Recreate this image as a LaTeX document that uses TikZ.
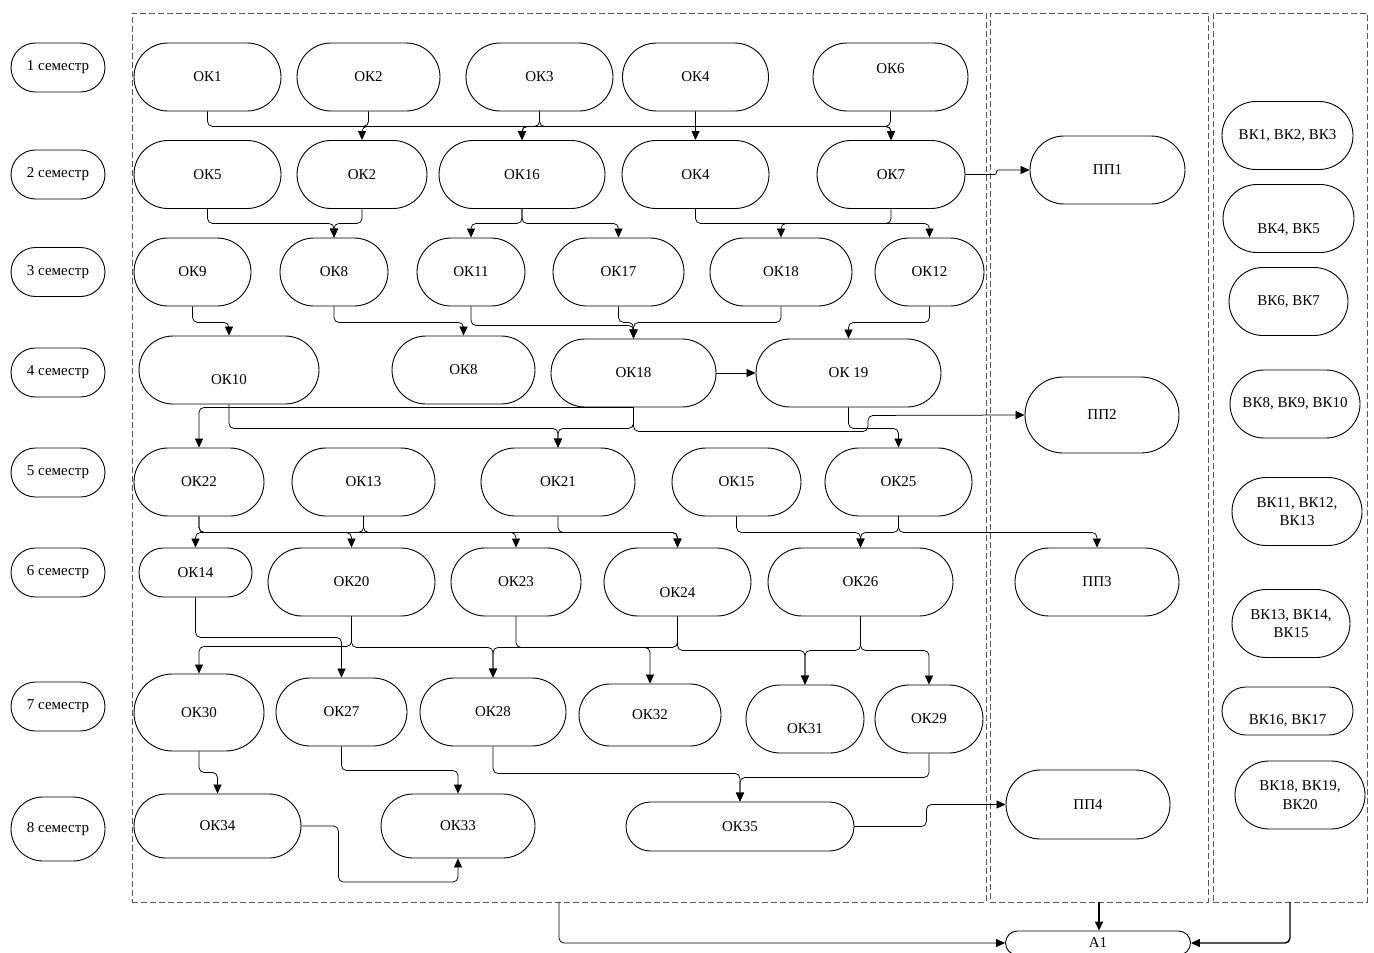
\documentclass[tikz,border=0pt]{standalone}
\usepackage{fontspec}
\setmainfont{Liberation Serif}
\usetikzlibrary{shapes.misc,arrows.meta}

\begin{document}
\begin{tikzpicture}[x=1pt, y=-1pt,
    box/.style={
        rounded rectangle, draw, line width=0.9pt,
        minimum height=68pt, inner sep=2pt,
        align=center, font=\fontsize{15}{18.5}\selectfont
    },
    sem/.style={box, minimum width=98pt, minimum height=49pt},
    area/.style={
        rectangle, draw=black!65, dash pattern=on 6pt off 3pt,
        line width=0.7pt, inner sep=0pt, outer sep=0pt
    },
    arrow/.style={-{Triangle[length=9pt,width=8pt]}, line width=0.75pt, rounded corners=5pt},
    bigarrow/.style={arrow, line width=1.4pt},
    txtdown/.style={text height=#1, text depth=0pt},
    txtup/.style={text height=0pt, text depth=#1}
]
\useasboundingbox (0,0) rectangle (1374,953);

% Areas
\node[area, minimum width=854, minimum height=889] (okarea) at (559,457.5) {};
\node[area, minimum width=218, minimum height=889] (pparea) at (1099,457.5) {};
\node[area, minimum width=154, minimum height=889] (vkarea) at (1290,457.5) {};

% Semesters
\node[sem] (s1) at (58,67.5) {1 семестр};
\node[sem] (s2) at (58,174.5) {2 семестр};
\node[sem] (s3) at (58,272) {3 семестр};
\node[sem] (s4) at (58,372.5) {4 семестр};
\node[sem] (s5) at (58,472.5) {5 семестр};
\node[sem] (s6) at (58,572.5) {6 семестр};
\node[sem] (s7) at (58,706.5) {7 семестр};
\node[sem, minimum height=64] (s8) at (58,829) {8 семестр};

% Semester 1
\node[box, minimum width=151] (ok1) at (207.5,77) {ОК1};
\node[box, minimum width=147] (ok2) at (368.5,77) {ОК2};
\node[box, minimum width=151] (ok3) at (539.5,77) {ОК3};
\node[box, minimum width=150] (ok4) at (695.5,77) {ОК4};
\node[box, minimum width=159, txtup=8pt] (ok6) at (890.5,77) {ОК6};

% Semester 2
\node[box, minimum width=151] (ok5) at (207.5,174.5) {ОК5};
\node[box, minimum width=134] (ok2b) at (362,174.5) {ОК2};
\node[box, minimum width=170] (ok16) at (522,174.5) {ОК16};
\node[box, minimum width=151] (ok4b) at (695.5,174.5) {ОК4};
\node[box, minimum width=152] (ok7) at (891,174.5) {ОК7};
\node[box, minimum width=159] (pp1) at (1107.5,170) {ПП1};

% Semester 3
\node[box, minimum width=121] (ok9) at (192.5,272) {ОК9};
\node[box, minimum width=112] (ok8) at (334,272) {ОК8};
\node[box, minimum width=112] (ok11) at (471,272) {ОК11};
\node[box, minimum width=135] (ok17) at (618.5,272) {ОК17};
\node[box, minimum width=146] (ok18) at (781,272) {ОК18};
\node[box, minimum width=113] (ok12) at (929.5,272) {ОК12};

% Semester 4
\node[box, minimum width=184, txtdown=28pt] (ok10) at (229,370) {ОК10};
\node[box, minimum width=147] (ok8b) at (463.5,370) {ОК8};
\node[box, minimum width=169] (ok18b) at (633.5,373) {ОК18};
\node[box, minimum width=189] (ok19) at (848.5,373) {ОК 19};
\node[box, minimum width=158, minimum height=76] (pp2) at (1102,415) {ПП2};

% Semester 5
\node[box, minimum width=134] (ok22) at (199,482) {ОК22};
\node[box, minimum width=147] (ok13) at (363.5,482) {ОК13};
\node[box, minimum width=158] (ok21) at (558,482) {ОК21};
\node[box, minimum width=133] (ok15) at (736.5,482) {ОК15};
\node[box, minimum width=151] (ok25) at (898.5,482) {ОК25};

% Semester 6
\node[box, minimum width=117, minimum height=49] (ok14) at (195.5,572.5) {ОК14};
\node[box, minimum width=171] (ok20) at (351.5,582) {ОК20};
\node[box, minimum width=134] (ok23) at (516,582) {ОК23};
\node[box, minimum width=151, txtdown=30pt] (ok24) at (677.5,582) {ОК24};
\node[box, minimum width=189] (ok26) at (860.5,582) {ОК26};
\node[box, minimum width=168] (pp3) at (1097,582) {ПП3};

% Semester 7
\node[box, minimum width=134, minimum height=77] (ok30) at (199,712.5) {ОК30};
\node[box, minimum width=135] (ok27) at (341.5,712) {ОК27};
\node[box, minimum width=150] (ok28) at (493,712) {ОК28};
\node[box, minimum width=146, minimum height=62] (ok32) at (650,715) {ОК32};
\node[box, minimum width=122, txtdown=28pt] (ok31) at (805,719) {ОК31};
\node[box, minimum width=112] (ok29) at (929,719) {ОК29};

% Semester 8
\node[box, minimum width=171, minimum height=64] (ok34) at (217.5,826) {ОК34};
\node[box, minimum width=158, minimum height=64] (ok33) at (458,826) {ОК33};
\node[box, minimum width=232, minimum height=49] (ok35) at (740,826.5) {ОК35};
\node[box, minimum width=168, minimum height=69] (pp4) at (1088,804.5) {ПП4};

% Elective blocks
\node[box, minimum width=135] (vk1) at (1287.5,135.5) {ВК1, ВК2, ВК3};
\node[box, minimum width=135, txtdown=29pt] (vk2) at (1288.5,218.5) {ВК4, ВК5};
\node[box, minimum width=123] (vk3) at (1288.5,301.5) {ВК6, ВК7};
\node[box, minimum width=134] (vk4) at (1295,404) {ВК8, ВК9, ВК10};
\node[box, minimum width=134] (vk5) at (1297,511.5) {ВК11, ВК12,\\ВК13};
\node[box, minimum width=122] (vk6) at (1291,623.5) {ВК13, ВК14,\\ВК15};
\node[box, minimum width=135, minimum height=48, txtdown=26pt] (vk7) at (1287.5,711) {ВК16, ВК17};
\node[box, minimum width=134] (vk8) at (1300,795) {ВК18, ВК19,\\ВК20};

% Attestation
\node[box, minimum width=189, minimum height=24] (a1) at (1098,943) {А1};

% Semester 1 -> 2
\draw[arrow] (ok1.south) -- ++(0,15) -| (ok7.north);
\draw[arrow] (ok2.south) -- ++(0,15) -| (ok2b.north);
\draw[arrow] (ok3.south) -- ++(0,15) -| (ok16.north);
\draw[arrow] (ok3.south) -- ++(0,15) -| (ok7.north);
\draw[arrow] (ok4) -- (ok4b);
\draw[arrow] (ok6.south) -- ++(0,15) -| (ok16.north);

% Semester 2 -> 3
\draw[arrow] (ok5.south) -- ++(0,14.5) -| (ok8.north);
\draw[arrow] (ok2b.south) -- ++(0,14.5) -| (ok8.north);
\draw[arrow] (ok16.south) -- ++(0,14.5) -| (ok11.north);
\draw[arrow] (ok16.south) -- ++(0,14.5) -| (ok17.north);
\draw[arrow] (ok4b.south) -- ++(0,14.5) -| (ok12.north);
\draw[arrow] (ok7.south) -- ++(0,14.5) -| (ok18.north);
\draw[arrow, rounded corners=2pt] (ok7.east) -- ++(31,0) |- (pp1.west);

% Semester 3 -> 4
\draw[arrow] (ok9.south) -- ++(0,16) -| (ok10.north);
\draw[arrow] (ok8.south) -- ++(0,16) -| (ok8b.north);
\draw[arrow] (ok11.south) -- ++(0,19) -| (ok18b.north);
\draw[arrow] (ok17.south) -- ++(0,16) -| (ok18b.north);
\draw[arrow] (ok18.south) -- ++(0,16) -| (ok18b.north);
\draw[arrow] (ok12.south) -- ++(0,16) -| (ok19.north);

% Semester 4 -> 5
\draw[arrow] (ok18b.east) -- (ok19.west);
\draw[arrow] (ok18b.south) -| (ok22.north);
\draw[arrow] (ok10.south) -- ++(0,24) -| (ok21.north);
\draw[arrow] (ok18b.south) -- ++(0,21) -| (ok21.north);
\draw[arrow] (ok18b.south) -- ++(0,24) -- ++(234.5,0) -- ++(0,-16) -- (pp2.west);
\draw[arrow] (ok19.south) -- ++(0,21) -| (ok25.north);

% Semester 5 -> 6
\draw[arrow] (ok22.south) -- ++(0,16) -| (ok20.north);
\draw[arrow] (ok22.south) -- ++(0,16) -| (ok24.north);
\draw[arrow] (ok13.south) -- ++(0,16) -| (ok14.north);
\draw[arrow] (ok13.south) -- ++(0,16) -| (ok23.north);
\draw[arrow] (ok21.south) -- ++(0,16) -| (ok24.north);
\draw[arrow] (ok15.south) -- ++(0,16) -| (ok26.north);
\draw[arrow] (ok25.south) -- ++(0,16) -| (ok26.north);
\draw[arrow] (ok25.south) -- ++(0,16) -| (pp3.north);

% Semester 6 -> 7
\draw[arrow] (ok14.south) -- ++(0,40) -| (ok27.north);
\draw[arrow] (ok20.south) -- ++(0,30) -| (ok30.north);
\draw[arrow] (ok20.south) -- ++(0,31) -| (ok28.north);
\draw[arrow] (ok23.south) -- ++(0,31) -| (ok32.north);
\draw[arrow] (ok24.south) -- ++(0,31) -| (ok28.north);
\draw[arrow] (ok24.south) -- ++(0,34) -| (ok31.north);
\draw[arrow] (ok26.south) -- ++(0,34) -| (ok31.north);
\draw[arrow] (ok26.south) -- ++(0,34) -| (ok29.north);

% Semester 7 -> 8
\draw[arrow] (ok30.south) -- ++(0,21) -| (ok34.north);
\draw[arrow] (ok27.south) -- ++(0,24) -| (ok33.north);
\draw[arrow] (ok28.south) -- ++(0,27) -| (ok35.north);
\draw[arrow] (ok29.south) -- ++(0,24) -| (ok35.north);
\draw[arrow] (ok34.east) -- ++(37,0) -- ++(0,56) -| (ok33.south);
\draw[arrow] (ok35.east) -- ++(72,0) |- (pp4.west);

% To A1
\draw[arrow] (okarea.south) |- (a1.west);
\draw[bigarrow] (pparea.south) -- (pparea.south |- a1.north);
\draw[bigarrow] (vkarea.south) |- (a1.east);

\end{tikzpicture}
\end{document}
